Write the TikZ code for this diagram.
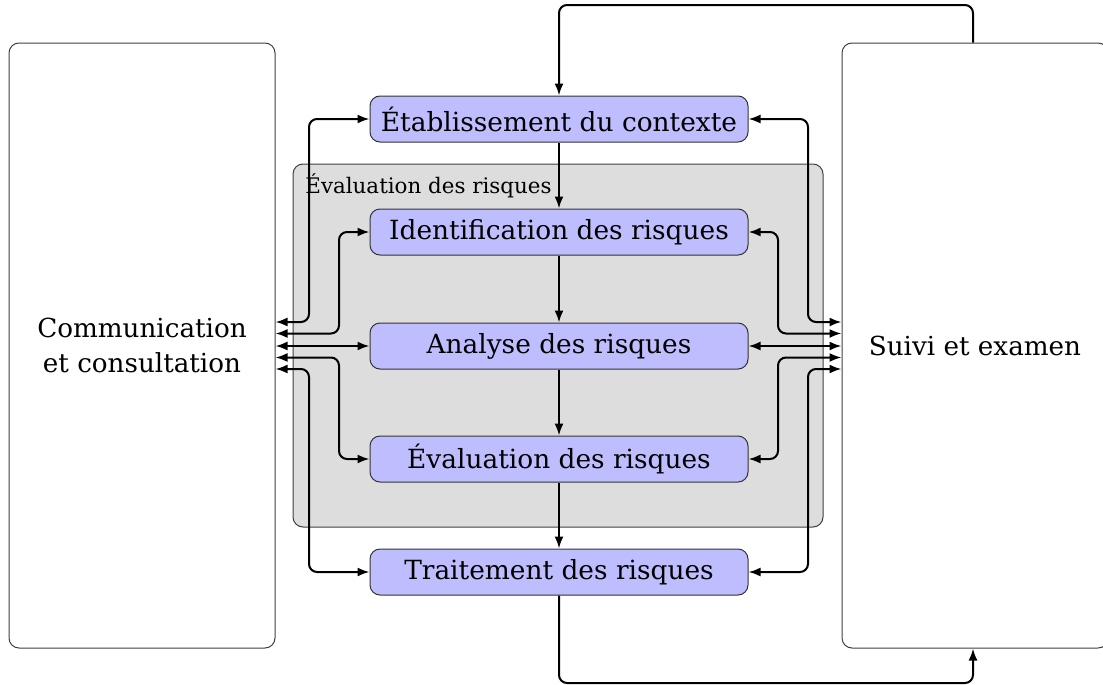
\documentclass[tikz,border=0pt]{standalone}
\usepackage{fontspec}
\setmainfont{DejaVu Serif}
\usetikzlibrary{arrows.meta,calc}
\begin{document}
\begin{tikzpicture}[x=0.5pt,y=-0.5pt,
  conn/.style={line width=1pt,rounded corners=4pt,{Latex[length=6pt,width=4.5pt]}-{Latex[length=6pt,width=4.5pt]}},
  oneway/.style={line width=1pt,rounded corners=4pt,-{Latex[length=6pt,width=4.5pt]}},
  bigbox/.style={draw=black!75,line width=0.5pt,rounded corners=5pt,fill=white,minimum width=133pt,minimum height=302.5pt,inner sep=0pt,font=\fontsize{13.1}{17.5}\selectfont,align=center},
  stepbox/.style={draw=black!80,line width=0.5pt,rounded corners=5pt,fill={rgb,255:red,190;green,190;blue,255},minimum width=189pt,minimum height=23pt,inner sep=0pt,font=\fontsize{13.2}{15}\selectfont},
  groupbox/.style={draw=black!75,line width=0.5pt,rounded corners=5pt,fill={rgb,255:red,221;green,221;blue,221},minimum width=265pt,minimum height=181.5pt,inner sep=0pt}
]
\useasboundingbox (0,0) rectangle (1103,685);
\clip (0,0) rectangle (1103,685);
\node[bigbox] (com) at (142,345.5) {Communication\\et consultation};
\node[bigbox] (suivi) at (975,345.5) {Suivi et examen};
\node[groupbox] (grp) at (558,345.5) {};
\node[anchor=base west,inner sep=0pt,font=\fontsize{10.7}{12}\selectfont] (grplabel) at (305,193) {Évaluation des risques};
\node[stepbox] (etab) at (559,119) {Établissement du contexte};
\node[stepbox] (ident) at (559,232) {Identification des risques};
\node[stepbox] (anal) at (559,346) {Analyse des risques};
\node[stepbox] (eval) at (559,459) {Évaluation des risques};
\node[stepbox] (trait) at (559,572) {Traitement des risques};
% vertical flow
\draw[oneway] (etab) -- (ident);
\draw[oneway] (ident) -- (anal);
\draw[oneway] (anal) -- (eval);
\draw[oneway] (eval) -- (trait);
% levels
\coordinate (ya) at (0,322);
\coordinate (yb) at (0,333.5);
\coordinate (yd) at (0,357.5);
\coordinate (ye) at (0,369);
\coordinate (lo) at (309,0);
\coordinate (li) at (339,0);
\coordinate (ri) at (778,0);
\coordinate (ro) at (808,0);
% left side
\draw[conn] (com.east |- ya) -| (lo |- etab.west) -- (etab.west);
\draw[conn] (com.east |- yb) -| (li |- ident.west) -- (ident.west);
\draw[conn] (com.east |- anal.west) -- (anal.west);
\draw[conn] (com.east |- yd) -| (li |- eval.west) -- (eval.west);
\draw[conn] (com.east |- ye) -| (lo |- trait.west) -- (trait.west);
% right side
\draw[conn] (suivi.west |- ya) -| (ro |- etab.east) -- (etab.east);
\draw[conn] (suivi.west |- yb) -| (ri |- ident.east) -- (ident.east);
\draw[conn] (suivi.west |- anal.east) -- (anal.east);
\draw[conn] (suivi.west |- yd) -| (ri |- eval.east) -- (eval.east);
\draw[conn] (suivi.west |- ye) -| (ro |- trait.east) -- (trait.east);
% loop
\coordinate (top) at (760,5);
\coordinate (bot) at (760,683);
\coordinate (sx) at (973,0);
\draw[oneway] (sx |- suivi.north) |- (top) -| (etab.north);
\draw[oneway] (trait.south) |- (bot) -| (sx |- suivi.south);
\end{tikzpicture}
\end{document}
